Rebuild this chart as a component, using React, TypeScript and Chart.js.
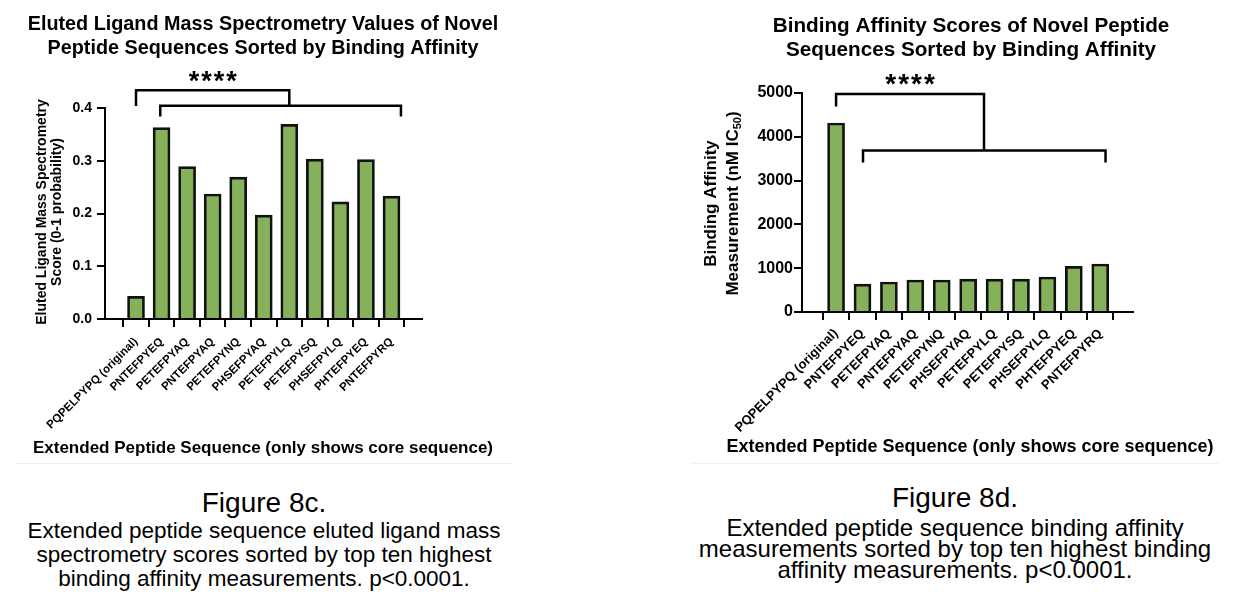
import React, { useEffect, useRef } from "react";
import { Chart, registerables } from "chart.js";

Chart.register(...registerables);

// ---------- data ----------
const sequenceLabels = [
  "PQPELPYPQ (original)",
  "PNTEFPYEQ",
  "PETEFPYAQ",
  "PNTEFPYAQ",
  "PETEFPYNQ",
  "PHSEFPYAQ",
  "PETEFPYLQ",
  "PETEFPYSQ",
  "PHSEFPYLQ",
  "PHTEFPYEQ",
  "PNTEFPYRQ",
];
const elutedScores = [0.043, 0.363, 0.289, 0.237, 0.269, 0.197, 0.369, 0.303, 0.222, 0.302, 0.233];
const affinityNm = [4315, 639, 685, 731, 731, 753, 753, 753, 799, 1043, 1096];
const elutedTicks = [0, 0.1, 0.2, 0.3, 0.4];
const affinityTicks = [0, 1000, 2000, 3000, 4000, 5000];

const FONT = "'Liberation Sans', Arial, Helvetica, sans-serif";
const BAR_GREEN = "#85b15a";

type Seg = { t: string; sub?: boolean };
type Bracket = { from: number; to: number; y: number; legFrom: number; legTo: number };
type Spec = {
  titleLines: string[];
  titleFont: string;
  titleX: number;
  titleBaselines: number[];
  xTitle: string;
  xTitleFont: string;
  xTitleX: number;
  xTitleBaseline: number;
  yTitleLines: Seg[][];
  yTitleSize: number;
  yTitleXs: number[];
  yTitleCenterY: number;
  brackets: Bracket[];
  starsAt: { x: number; y: number; font: string; spacing: number };
};

function overlayPlugin(spec: Spec) {
  return {
    id: "overlay",
    afterDraw(chart: any) {
      const ctx: CanvasRenderingContext2D = chart.ctx;
      const xs = chart.scales.x;
      const ys = chart.scales.y;
      ctx.save();
      ctx.fillStyle = "#000";
      ctx.textBaseline = "alphabetic";
      ctx.textAlign = "center";
      // chart title
      ctx.font = spec.titleFont;
      spec.titleLines.forEach((t, i) => ctx.fillText(t, spec.titleX, spec.titleBaselines[i]));
      // x title
      ctx.font = spec.xTitleFont;
      ctx.fillText(spec.xTitle, spec.xTitleX, spec.xTitleBaseline);
      // y title (rotated, with subscript support)
      spec.yTitleLines.forEach((segs, li) => {
        const size = spec.yTitleSize;
        const subSize = Math.round(size * 0.65);
        let total = 0;
        const widths = segs.map((s) => {
          ctx.font = `bold ${s.sub ? subSize : size}px ${FONT}`;
          const w = ctx.measureText(s.t).width;
          total += w;
          return w;
        });
        ctx.save();
        ctx.translate(spec.yTitleXs[li], spec.yTitleCenterY);
        ctx.rotate(-Math.PI / 2);
        ctx.textAlign = "left";
        ctx.textBaseline = "middle";
        let x = -total / 2;
        segs.forEach((s, i) => {
          ctx.font = `bold ${s.sub ? subSize : size}px ${FONT}`;
          ctx.fillText(s.t, x, s.sub ? size * 0.3 : 0);
          x += widths[i];
        });
        ctx.restore();
      });
      // significance brackets
      ctx.strokeStyle = "#000";
      ctx.lineWidth = 2.5;
      ctx.lineJoin = "miter";
      ctx.lineCap = "butt";
      spec.brackets.forEach((b) => {
        const x1 = xs.getPixelForValue(b.from);
        const x2 = xs.getPixelForValue(b.to);
        const y = ys.getPixelForValue(b.y);
        ctx.beginPath();
        ctx.moveTo(x1, ys.getPixelForValue(b.legFrom));
        ctx.lineTo(x1, y);
        ctx.lineTo(x2, y);
        ctx.lineTo(x2, ys.getPixelForValue(b.legTo));
        ctx.stroke();
      });
      // stars
      ctx.font = spec.starsAt.font;
      (ctx as any).letterSpacing = `${spec.starsAt.spacing}px`;
      ctx.textAlign = "center";
      ctx.textBaseline = "alphabetic";
      const m = ctx.measureText("****");
      const off = (m.actualBoundingBoxAscent - m.actualBoundingBoxDescent) / 2;
      ctx.fillText("****", xs.getPixelForValue(spec.starsAt.x) + spec.starsAt.spacing / 2, ys.getPixelForValue(spec.starsAt.y) + off);
      (ctx as any).letterSpacing = "0px";
      ctx.restore();
    },
  };
}

type PanelProps = {
  values: number[];
  yTicks: number[];
  yFmt: (v: number) => string;
  yTickFont: number;
  yTickPad: number;
  xTickFont: number;
  xTickPad: number;
  xMin: number;
  xMax: number;
  area: { left: number; right: number; top: number; bottom: number };
  spec: Spec;
  left: number;
};

const W = 619;
const H = 470;

function Panel(p: PanelProps) {
  const ref = useRef<HTMLCanvasElement>(null);
  useEffect(() => {
    if (!ref.current) return;
    const chart = new Chart(ref.current, {
      type: "bar",
      data: {
        datasets: [
          {
            data: p.values.map((v, i) => ({ x: i, y: v })),
            backgroundColor: BAR_GREEN,
            borderColor: "#111",
            borderWidth: 2.7,
            barThickness: 17,
          },
        ],
      },
      options: {
        animation: false,
        responsive: false,
        devicePixelRatio: 1,
        layout: {
          padding: { top: p.area.top, left: 0, right: W - p.area.right, bottom: 0 },
        },
        plugins: { legend: { display: false }, tooltip: { enabled: false }, title: { display: false } },
        scales: {
          x: {
            type: "linear",
            min: p.xMin,
            max: p.xMax,
            z: 1,
            afterBuildTicks: (s: any) => {
              s.ticks = sequenceLabels.map((_, i) => ({ value: i }));
            },
            afterFit: (s: any) => {
              s.height = H - p.area.bottom;
            },
            ticks: {
              autoSkip: false,
              maxRotation: 45,
              minRotation: 45,
              padding: p.xTickPad,
              color: "#000",
              font: { family: FONT, size: p.xTickFont, weight: "bold" },
              callback: (v: any) => sequenceLabels[v] ?? "",
            },
            grid: { display: true, drawOnChartArea: false, drawTicks: true, tickLength: 8, lineWidth: 2, color: "#000" },
            border: { display: true, color: "#000", width: 2 },
          },
          y: {
            min: p.yTicks[0],
            max: p.yTicks[p.yTicks.length - 1],
            z: 1,
            afterBuildTicks: (s: any) => {
              s.ticks = p.yTicks.map((v) => ({ value: v }));
            },
            afterFit: (s: any) => {
              s.width = p.area.left;
            },
            ticks: {
              padding: p.yTickPad,
              color: "#000",
              font: { family: FONT, size: p.yTickFont, weight: "bold" },
              callback: (v: any) => p.yFmt(Number(v)),
            },
            grid: { display: true, drawOnChartArea: false, drawTicks: true, tickLength: 8, lineWidth: 2, color: "#000" },
            border: { display: true, color: "#000", width: 2 },
          },
        },
      },
      plugins: [overlayPlugin(p.spec)],
    } as any);
    return () => chart.destroy();
  }, []);
  return (
    <canvas
      ref={ref}
      width={W}
      height={H}
      style={{ position: "absolute", left: p.left, top: 0, width: W, height: H }}
    />
  );
}

const leftSpec: Spec = {
  titleLines: ["Eluted Ligand Mass Spectrometry Values of Novel", "Peptide Sequences Sorted by Binding Affinity"],
  titleFont: `bold 19.8px ${FONT}`,
  titleX: 263,
  titleBaselines: [30, 53.5],
  xTitle: "Extended Peptide Sequence (only shows core sequence)",
  xTitleFont: `bold 17px ${FONT}`,
  xTitleX: 263,
  xTitleBaseline: 453,
  yTitleLines: [[{ t: "Eluted Ligand Mass Spectrometry" }], [{ t: "Score (0-1 probability)" }]],
  yTitleSize: 14,
  yTitleXs: [42, 57],
  yTitleCenterY: 212,
  brackets: [
    { from: 0, to: 6.0, y: 0.4335, legFrom: 0.404, legTo: 0.404 },
    { from: 0.95, to: 10.37, y: 0.4044, legFrom: 0.384, legTo: 0.384 },
  ],
  starsAt: { x: 3.0, y: 0.459, font: `bold 27px ${FONT}`, spacing: 2 },
};

const rightSpec: Spec = {
  titleLines: ["Binding Affinity Scores of Novel Peptide", "Sequences Sorted by Binding Affinity"],
  titleFont: `bold 20.7px ${FONT}`,
  titleX: 352,
  titleBaselines: [31.5, 55.5],
  xTitle: "Extended Peptide Sequence (only shows core sequence)",
  xTitleFont: `bold 18px ${FONT}`,
  xTitleX: 351,
  xTitleBaseline: 452,
  yTitleLines: [[{ t: "Binding Affinity" }], [{ t: "Measurement (nM IC" }, { t: "50", sub: true }, { t: ")" }]],
  yTitleSize: 17,
  yTitleXs: [92, 114],
  yTitleCenterY: 203.5,
  brackets: [
    { from: 0, to: 5.6, y: 4977, legFrom: 4694, legTo: 3689 },
    { from: 1.02, to: 10.2, y: 3689, legFrom: 3416, legTo: 3416 },
  ],
  starsAt: { x: 2.8, y: 5303, font: `bold 28px ${FONT}`, spacing: 2 },
};

function Caption(props: { text: string; cx: number; cy: number; size: number }) {
  return (
    <div
      style={{
        position: "absolute",
        left: props.cx - 320,
        width: 640,
        top: props.cy - props.size * 0.49,
        fontSize: props.size,
        lineHeight: `${props.size}px`,
        textAlign: "center",
        fontFamily: FONT,
        color: "#000",
        whiteSpace: "nowrap",
      }}
    >
      {props.text}
    </div>
  );
}

export default function App() {
  return (
    <div
      style={{
        position: "fixed",
        left: 0,
        top: 0,
        width: 1238,
        height: 600,
        background: "#fff",
        overflow: "hidden",
      }}
    >
      <Panel
        values={elutedScores}
        yTicks={elutedTicks}
        yFmt={(v) => v.toFixed(1)}
        yTickFont={14}
        yTickPad={5}
        xTickFont={11.5}
        xTickPad={8}
        xMin={-0.65}
        xMax={10.63}
        area={{ left: 105, right: 422, top: 108, bottom: 319 }}
        spec={leftSpec}
        left={0}
      />
      <Panel
        values={affinityNm}
        yTicks={affinityTicks}
        yFmt={(v) => String(Math.round(v))}
        yTickFont={16}
        yTickPad={1}
        xTickFont={13}
        xTickPad={6}
        xMin={-0.72}
        xMax={10.67}
        area={{ left: 183, right: 514, top: 93, bottom: 312 }}
        spec={rightSpec}
        left={619}
      />
      <div style={{ position: "absolute", left: 16, top: 463, width: 497, height: 1, background: "#ececec" }} />
      <div style={{ position: "absolute", left: 692, top: 463, width: 527, height: 1, background: "#f1f1f1" }} />
      <Caption text="Figure 8c." cx={264} cy={503} size={28} />
      <Caption text="Extended peptide sequence eluted ligand mass" cx={264} cy={531} size={22.5} />
      <Caption text="spectrometry scores sorted by top ten highest" cx={264} cy={555} size={22.5} />
      <Caption text="binding affinity measurements. p<0.0001." cx={264} cy={579} size={22.5} />
      <Caption text="Figure 8d." cx={955} cy={498} size={28} />
      <Caption text="Extended peptide sequence binding affinity" cx={955} cy={528} size={24} />
      <Caption text="measurements sorted by top ten highest binding" cx={955} cy={549} size={24} />
      <Caption text="affinity measurements. p<0.0001." cx={955} cy={570} size={24} />
    </div>
  );
}
